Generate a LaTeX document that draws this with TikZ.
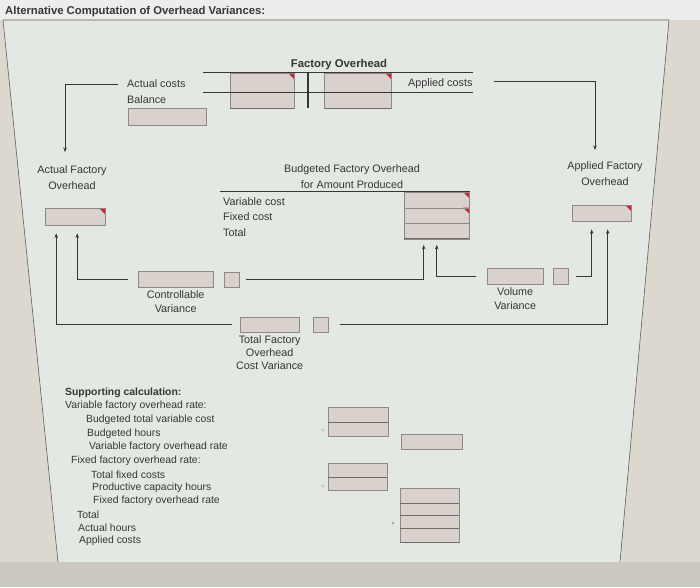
\documentclass[tikz,border=0pt]{standalone}
\usepackage{fontspec}
\setmainfont{Liberation Sans}
\usetikzlibrary{positioning,arrows.meta,calc}
\definecolor{ink}{HTML}{363636}
\definecolor{boxfill}{HTML}{D9D1CC}
\definecolor{boxline}{HTML}{8E8886}
\definecolor{boxedge}{HTML}{6E6A68}
\definecolor{flagred}{HTML}{C0283A}
\definecolor{panel}{HTML}{E3E8E3}
\definecolor{topwhite}{HTML}{EDEDEB}
\definecolor{beige}{HTML}{DCD8D0}
\definecolor{band}{HTML}{CCC8C2}

\begin{document}
\begin{tikzpicture}[x=1pt, y=-1pt,
  txt/.style={font=\fontsize{10.8}{14}\selectfont, text=ink, inner sep=1pt},
  lbl/.style={txt, align=center},
  calc/.style={font=\fontsize{10.4}{12}\selectfont, text=ink, inner sep=0pt, anchor=west},
  fld/.style={draw=boxline, fill=boxfill, inner sep=0pt, anchor=north west},
  flag/.style={path picture={\fill[flagred]
      ([xshift=-6pt]path picture bounding box.north east) --
      (path picture bounding box.north east) --
      ([yshift=-6pt]path picture bounding box.north east) -- cycle;}},
  ledger/.style={append after command={(\tikzlastnode.south west)
      edge[boxedge, line width=1pt] (\tikzlastnode.south east)}},
  sign/.style={font=\fontsize{6}{7}\selectfont, text=ink!70, inner sep=0pt},
  rule/.style={ink, line width=0.7pt},
  arr/.style={-{Stealth[length=4.5pt, width=3.5pt]}, ink, line width=0.6pt}
]
  \useasboundingbox (0,0) rectangle (700,587);
  % screen and panel
  \fill[beige] (0,0) rectangle (700,587);
  \fill[topwhite] (0,0) rectangle (700,20);
  \fill[panel] (3,20) -- (669,20) -- (620,562) -- (58,562) -- cycle;
  \draw[ink!80, line width=0.6pt] (3,20) -- (669,20) -- (620,562);
  \draw[ink!80, line width=0.6pt] (3,20) -- (58,562);
  \fill[band] (0,562) rectangle (700,587);

  \node[anchor=west, font=\bfseries\fontsize{11.3}{13}\selectfont, text=ink, inner sep=0pt]
    (title) at (5,12) {Alternative Computation of Overhead Variances:};

  % Factory Overhead account
  \node[font=\bfseries\fontsize{11.3}{13}\selectfont, text=ink, inner sep=0pt] (fohead) at (339,65) {Factory Overhead};
  \node[fld, flag, ledger, minimum width=64pt, minimum height=35pt] (foL) at (230,73) {};
  \node[fld, flag, ledger, minimum width=67pt, minimum height=35pt] (foR) at (324,73) {};
  \coordinate (ta) at (203,72); \coordinate (tb) at (473,72);
  \coordinate (tc) at (203,92); \coordinate (td) at (473,92);
  \coordinate (tt) at (308,72); \coordinate (tu) at (308,108);
  \draw[rule] (ta) -- (tb);
  \draw[rule] (tc) -- (td);
  \draw[ink, line width=1.3pt] (tt) -- (tu);

  \node[txt, anchor=west] (actc) at (126,84) {Actual costs};
  \node[txt, anchor=west] (bal)  at (126,100) {Balance};
  \node[fld, minimum width=78pt, minimum height=17pt] (balbox) at (128,108) {};
  \node[txt, anchor=west] (appc) at (407,84) {Applied costs};

  % the two overhead accounts
  \node[lbl] (afo)  at (72,178)  {Actual Factory\\[2pt]Overhead};
  \node[fld, flag, minimum width=60pt, minimum height=17pt] (afobox) at (45,208) {};
  \node[lbl] (apfo) at (605,174) {Applied Factory\\[2pt]Overhead};
  \node[fld, flag, minimum width=59pt, minimum height=16pt] (apfobox) at (572,205) {};

  \coordinate (acEnd) at (65,152);
  \coordinate (apEnd) at (595,150);
  \draw[arr] ([xshift=-8pt]actc.west) -| (acEnd);
  \draw[arr] ([xshift=20pt, yshift=3pt]appc.east) -| (apEnd);

  % budget
  \node[lbl] (bud) at (352,177) {Budgeted Factory Overhead\\[2pt]for Amount Produced};
  \coordinate (ba) at (220,191); \coordinate (bb) at (470,191);
  \draw[rule] (ba) -- (bb);
  \node[txt, anchor=west] (varc) at (222,202) {Variable cost};
  \node[txt, anchor=west] (fixc) at (222,217) {Fixed cost};
  \node[txt, anchor=west] (totc) at (222,233) {Total};
  \node[fld, flag, minimum width=65pt, minimum height=15.5pt] (b1) at (404,192) {};
  \node[fld, flag, minimum width=65pt, minimum height=15.5pt] (b2) at (404,207.5) {};
  \node[fld, ledger, minimum width=65pt, minimum height=15.5pt] (b3) at (404,223) {};

  % variances
  \node[fld, minimum width=75pt, minimum height=16pt] (cbox) at (138,271) {};
  \node[fld, minimum width=15pt, minimum height=15pt] (csm)  at (224,272) {};
  \node[lbl, below=2pt of cbox] (ctxt) {Controllable\\Variance};

  \node[fld, minimum width=59pt, minimum height=15pt] (tbox) at (240,317) {};
  \node[fld, minimum width=15pt, minimum height=15pt] (tsm)  at (313,317) {};
  \node[lbl, below=2pt of tbox, font=\fontsize{10.8}{12.8}\selectfont] (ttxt) {Total Factory\\Overhead\\Cost Variance};

  \node[fld, minimum width=56pt, minimum height=16pt] (vbox) at (487,268) {};
  \node[fld, minimum width=15pt, minimum height=16pt] (vsm)  at (553,268) {};
  \node[lbl, below=2pt of vbox] (vtxt) {Volume\\Variance};

  \draw[arr] ([xshift=7pt]csm.east) -| ([xshift=-13pt, yshift=-6pt]b3.south);
  \draw[arr] ([xshift=-11pt]vbox.west) -| ([yshift=-6pt]b3.south);
  \draw[arr] ([xshift=-10pt]cbox.west) -| ([xshift=2pt, yshift=-8pt]afobox.south);
  \draw[arr] ([xshift=-8pt]tbox.west) -| ([xshift=-19pt, yshift=-8pt]afobox.south);
  \draw[arr] ([xshift=8pt]vsm.east) -| ([xshift=-10pt, yshift=-8pt]apfobox.south);
  \draw[arr] ([xshift=12pt]tsm.east) -| ([xshift=6pt, yshift=-8pt]apfobox.south);

  % supporting calculation
  \node[calc, font=\bfseries\fontsize{10.4}{12}\selectfont] (shead) at (65,393) {Supporting calculation:};
  \foreach [count=\i] \x/\y/\t in {65/406/Variable factory overhead rate:,
      86/420/Budgeted total variable cost, 87/434/Budgeted hours,
      89/447/Variable factory overhead rate, 71/461/Fixed factory overhead rate:,
      91/475/Total fixed costs, 92/488/Productive capacity hours,
      93/501/Fixed factory overhead rate, 77/515/Total,
      78/528/Actual hours, 79/541/Applied costs}
    \node[calc] (s\i) at (\x,\y) {\t};

  \node[fld, minimum width=60pt, minimum height=29pt] (ca) at (328,407) {};
  \draw[boxedge] (ca.west) -- (ca.east);
  \node[sign] (dv1) at (323,431) {÷};
  \node[fld, minimum width=61pt, minimum height=15pt] (cb) at (401,434) {};
  \node[fld, minimum width=59pt, minimum height=27pt] (cc) at (328,463) {};
  \draw[boxedge] (cc.west) -- (cc.east);
  \node[sign] (dv2) at (323,487) {÷};
  \node[fld, ledger, minimum width=59pt, minimum height=54pt] (cd) at (400,488) {};
  \foreach \f in {0.27,0.5,0.74}
    \draw[boxedge] ($(cd.north west)!\f!(cd.south west)$) -- ($(cd.north east)!\f!(cd.south east)$);
  \node[sign] (mul) at (393,524) {×};
\end{tikzpicture}
\end{document}
